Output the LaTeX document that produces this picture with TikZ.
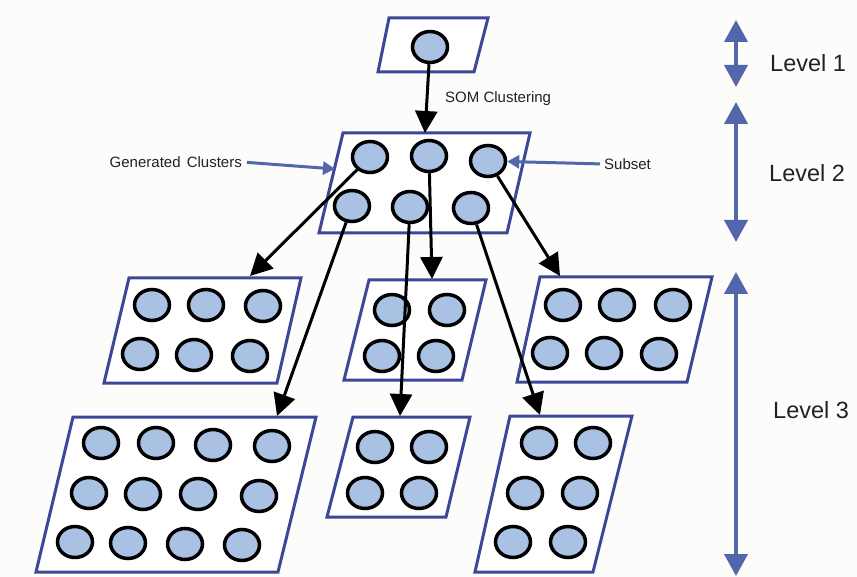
\documentclass[tikz,border=0pt]{standalone}
\usepackage{fontspec}
\setmainfont{Liberation Sans}
\usetikzlibrary{arrows.meta,shapes.geometric}
\definecolor{frameblue}{HTML}{3C4897}
\definecolor{levelblue}{HTML}{5266AC}
\definecolor{cellfill}{HTML}{A9C1E3}
\definecolor{textgray}{HTML}{222222}
\definecolor{paper}{HTML}{FCFCFA}
\begin{document}
\begin{tikzpicture}[x=1pt,y=-1pt,
  cell/.style={ellipse, draw=black, line width=3.5pt, fill=cellfill,
    minimum width=35pt, minimum height=31pt, inner sep=0pt},
  panel/.style={draw=frameblue, line width=3pt, fill=white, line join=miter},
  flow/.style={draw=black, line width=3pt, -{Triangle[length=22pt,width=22pt]}},
  pointer/.style={draw=levelblue, line width=3pt, -{Triangle[length=12pt,width=13pt]}},
  span/.style={draw=levelblue, line width=4pt,
    {Triangle[length=22pt,width=23pt]}-{Triangle[length=22pt,width=23pt]}},
  caption/.style={font=\fontsize{15}{18}\selectfont, text=textgray, inner sep=0pt},
  levelname/.style={font=\fontsize{23.5}{28}\selectfont, text=textgray, inner sep=0pt}]

% canvas
\fill[paper] (0,0) rectangle (857,577);
\useasboundingbox (0,0) rectangle (857,577);

% ---------- panels ----------
% level 1
\draw[panel] (389,18) -- (488,18) -- (474,72) -- (378,72) -- cycle;
% level 2
\draw[panel] (343,133) -- (530,133) -- (507,233) -- (319,233) -- cycle;
% level 3
\draw[panel] (129,278) -- (301,278) -- (277,383) -- (104,383) -- cycle; % A
\draw[panel] (73,417) -- (316,417) -- (278,572) -- (36,572) -- cycle;   % B
\draw[panel] (369,280) -- (486,280) -- (462,380) -- (344,380) -- cycle; % C
\draw[panel] (353,417) -- (470,417) -- (446,517) -- (327,517) -- cycle; % D
\draw[panel] (540,277) -- (712,277) -- (687,382) -- (517,382) -- cycle; % E
\draw[panel] (510,416) -- (632,416) -- (593,572) -- (475,572) -- cycle; % F

% arrow targets on the panel edges
\coordinate (inL2) at (425,133);
\coordinate (inA) at (250,276);
\coordinate (inB) at (277,416);
\coordinate (inC) at (432,279);
\coordinate (inD) at (400,416);
\coordinate (inE) at (560,276);
\coordinate (inF) at (540,415);
\coordinate (edgeL2) at (335,169);

% ---------- cells ----------
\node[cell] (root) at (430,47) {};
\foreach \p [count=\i] in {(370,157),(429,156),(488,161),(352,206),(410,207),(471,208)}
  \node[cell] (q\i) at \p {};
\foreach \p [count=\i] in {(152,305),(206,305),(263,306),(140,354),(194,355),(250,356)}
  \node[cell] (a\i) at \p {};
\foreach \p [count=\i] in {(101,443),(156,443),(213,445),(272,446),
                           (89,493),(143,494),(198,494),(259,496),
                           (75,542),(128,543),(185,544),(242,545)}
  \node[cell] (b\i) at \p {};
\foreach \p [count=\i] in {(392,310),(447,310),(382,356),(436,356)}
  \node[cell] (c\i) at \p {};
\foreach \p [count=\i] in {(375,447),(429,447),(365,493),(419,493)}
  \node[cell] (d\i) at \p {};
\foreach \p [count=\i] in {(563,305),(617,305),(673,305),(550,353),(604,353),(659,354)}
  \node[cell] (e\i) at \p {};
\foreach \p [count=\i] in {(539,443),(593,443),(525,493),(580,493),(513,542),(568,542)}
  \node[cell] (f\i) at \p {};

% ---------- clustering arrows ----------
\draw[flow] (root) -- (inL2);
\draw[flow] (q1) -- (inA);
\draw[flow] (q4) -- (inB);
\draw[flow] (q2) -- (inC);
\draw[flow] (q5) -- (inD);
\draw[flow] (q3) -- (inE);
\draw[flow] (q6) -- (inF);

% ---------- captions ----------
\node[caption, anchor=west] (som) at (445,99) {SOM Clustering};
\node[caption, anchor=east] (gen) at (242,162) {Generated\hspace{2pt} Clusters};
\node[caption, anchor=west] (sub) at (604,164) {Subset};
\draw[pointer, shorten <=5pt] (gen.east) -- (edgeL2);
\draw[pointer, shorten <=4pt] (sub.west) -- (q3);

% ---------- level scale ----------
\coordinate (l1top) at (736,20);
\coordinate (l1bot) at (736,87);
\coordinate (l2top) at (736,102);
\coordinate (l2bot) at (736,242);
\coordinate (l3top) at (736,272);
\coordinate (l3bot) at (736,576);
\draw[span] (l1top) -- (l1bot);
\draw[span] (l2top) -- (l2bot);
\draw[span] (l3top) -- (l3bot);
\node[levelname, anchor=west] (lev1) at (770,63) {Level 1};
\node[levelname, anchor=west] (lev2) at (769,173) {Level 2};
\node[levelname, anchor=west] (lev3) at (773,410) {Level 3};
\end{tikzpicture}
\end{document}
